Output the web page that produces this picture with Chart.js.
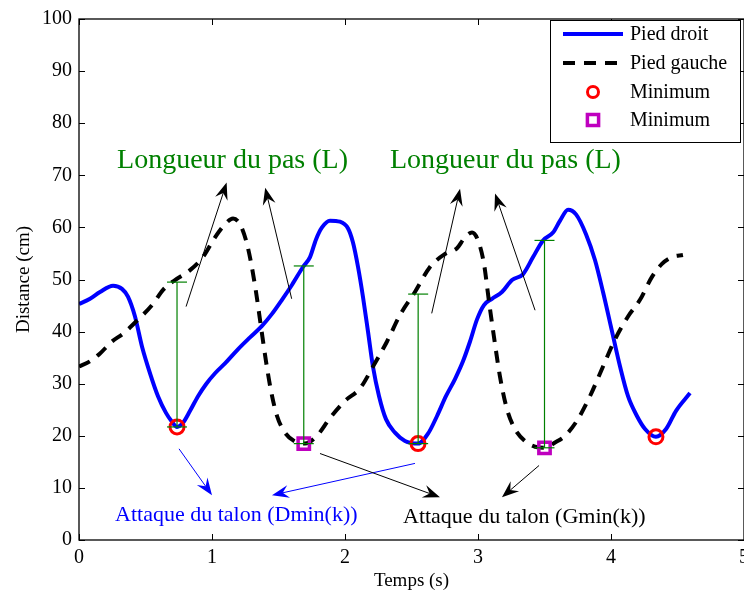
<!DOCTYPE html>
<html>
<head>
<meta charset="utf-8">
<script src="https://cdn.jsdelivr.net/npm/chart.js@4/dist/chart.umd.min.js"></script>
<style>
  html, body { margin: 0; padding: 0; background: #fff; overflow: hidden; }
  #wrap { position: absolute; left: 0; top: 0; width: 800px; height: 594px; }
</style>
</head>
<body>
<div id="wrap"><canvas id="gait"></canvas></div>
<script>
// Pied droit (right foot), time in s / distance in cm
const droitT = [0, 0.083, 0.158, 0.256, 0.323, 0.368, 0.421, 0.474, 0.534, 0.594, 0.654, 0.699, 0.737,
  0.782, 0.835, 0.895, 0.955, 1.023, 1.098, 1.195, 1.286, 1.376, 1.451, 1.526, 1.602, 1.684, 1.737,
  1.782, 1.827, 1.887, 1.962, 2.023, 2.06, 2.098, 2.135, 2.173, 2.21, 2.256, 2.308, 2.376, 2.451,
  2.549, 2.624, 2.692, 2.759, 2.827, 2.887, 2.94, 2.992, 3.045, 3.105, 3.18, 3.256, 3.338, 3.414,
  3.489, 3.564, 3.617, 3.677, 3.737, 3.812, 3.88, 3.94, 4.008, 4.068, 4.128, 4.195, 4.256, 4.338,
  4.414, 4.489, 4.594];
const droitD = [45.3, 46.3, 47.6, 48.8, 48.2, 46.7, 42.9, 37.1, 32, 27.6, 24.4, 22.7, 21.7,
  22.5, 24.8, 27.6, 29.9, 32, 33.9, 36.6, 38.9, 41.1, 43.4, 46.1, 49, 52.4, 54.3,
  57.7, 60, 61.3, 61.1, 59.8, 57.1, 52.4, 46.7, 40, 33.3, 27.6, 23.2, 20.6, 19,
  18.5, 20.4, 23.8, 27.6, 30.9, 34.3, 38.1, 42.3, 45.1, 46.3, 47.6, 49.9, 51, 54.3,
  57.5, 59, 61.3, 63.4, 62.5, 58.7, 53.7, 47.6, 40, 33.3, 27.6, 23.8, 21.3, 19.8,
  21.3, 24.8, 28.2];

// Pied gauche (left foot)
const gaucheT = [0, 0.083, 0.158, 0.248, 0.331, 0.444, 0.556, 0.632, 0.722, 0.835, 0.932, 1.023,
  1.098, 1.158, 1.211, 1.256, 1.293, 1.331, 1.368, 1.406, 1.444, 1.489, 1.549, 1.624, 1.699,
  1.789, 1.887, 2.0, 2.113, 2.211, 2.316, 2.414, 2.526, 2.639, 2.752, 2.842, 2.902, 2.955, 3.0,
  3.045, 3.083, 3.12, 3.165, 3.218, 3.278, 3.353, 3.429, 3.504, 3.579, 3.654, 3.744, 3.842,
  3.94, 4.03, 4.128, 4.218, 4.308, 4.383, 4.459, 4.541];
const gaucheD = [33.3, 34.3, 35.8, 38.1, 39.6, 42.3, 45.3, 48, 49.9, 51.8, 54.3, 58.1,
  60.6, 61.7, 60.6, 57.5, 53.3, 47.6, 41, 34.3, 28.6, 23.8, 20.6, 18.9, 18.5,
  20, 23.4, 26.7, 29.1, 33.3, 38.1, 43.2, 47.6, 52.4, 54.9, 56, 58.1, 59, 57.5,
  53, 45.7, 39, 31.4, 25.1, 21.3, 19, 17.9, 17.7, 18.7, 20, 22.9, 27.6,
  33.3, 38.5, 42.9, 46.1, 50.5, 53, 54.3, 54.7];

// Minima (heel strikes)
const minDroitT = [0.737, 2.549, 4.338];
const minDroitD = [21.7, 18.5, 19.8];
const minGaucheT = [1.69, 3.5];
const minGaucheD = [18.5, 17.7];

// Step length bars: at each minimum, up to the other foot
const pasT = [0.737, 1.69, 2.55, 3.5];
const pasLow = [21.7, 18.5, 18.5, 17.7];
const pasHigh = [49.5, 52.6, 47.2, 57.5];

const xTicks = [0, 1, 2, 3, 4, 5];
const yTicks = [0, 10, 20, 30, 40, 50, 60, 70, 80, 90, 100];
const legendLabels = ["Pied droit", "Pied gauche", "Minimum", "Minimum"];

// annotations, in data units
const notes = [
  { text: "Longueur du pas (L)", t: 0.286, d: 71.4, color: "#008000", size: 28 },
  { text: "Longueur du pas (L)", t: 2.338, d: 71.4, color: "#008000", size: 28 },
  { text: "Attaque du talon (Dmin(k))", t: 0.271, d: 3.7, color: "#0000ff", size: 22 },
  { text: "Attaque du talon (Gmin(k))", t: 2.436, d: 3.2, color: "#000000", size: 22 },
];
const arrows = [
  { from: [0.805, 44.8], to: [1.11, 68.6], color: "#000" },
  { from: [1.599, 46.3], to: [1.40, 67.6], color: "#000" },
  { from: [2.652, 43.5], to: [2.865, 67.4], color: "#000" },
  { from: [3.429, 44.1], to: [3.128, 66.5], color: "#000" },
  { from: [0.752, 17.5], to: [1.0, 8.6], color: "#0000ff" },
  { from: [2.526, 14.7], to: [1.451, 8.6], color: "#0000ff" },
  { from: [1.812, 16.6], to: [2.714, 8.2], color: "#000" },
  { from: [3.459, 14.3], to: [3.18, 8.2], color: "#000" },
];

const SERIF = '"Liberation Serif", "Times New Roman", serif';
const zip = (xs, ys) => xs.map((x, i) => ({ x, y: ys[i] }));

const pasData = [];
pasT.forEach((t, i) => {
  pasData.push({ x: t, y: pasLow[i] }, { x: t, y: pasHigh[i] }, { x: t, y: null });
});

const extras = {
  id: "extras",
  afterDatasetsDraw(chart) {
    const { ctx, chartArea: a, scales } = chart;
    const px = (t) => scales.x.getPixelForValue(t);
    const py = (d) => scales.y.getPixelForValue(d);
    ctx.save();

    // frame + inward ticks
    ctx.strokeStyle = "#000";
    ctx.lineWidth = 1.3;
    ctx.strokeRect(a.left, a.top, a.right - a.left, a.bottom - a.top);
    ctx.lineWidth = 1;
    ctx.beginPath();
    xTicks.forEach((t) => {
      const x = Math.round(px(t)) + 0.5;
      ctx.moveTo(x, a.bottom); ctx.lineTo(x, a.bottom - 6);
      ctx.moveTo(x, a.top); ctx.lineTo(x, a.top + 6);
    });
    yTicks.forEach((d) => {
      const y = Math.round(py(d)) + 0.5;
      ctx.moveTo(a.left, y); ctx.lineTo(a.left + 6, y);
      ctx.moveTo(a.right, y); ctx.lineTo(a.right - 6, y);
    });
    ctx.stroke();

    // arrows
    arrows.forEach((ar) => {
      const x0 = px(ar.from[0]), y0 = py(ar.from[1]);
      const x1 = px(ar.to[0]), y1 = py(ar.to[1]);
      const ang = Math.atan2(y1 - y0, x1 - x0);
      const L = 17, W = 6.5, N = 11;
      const bx = x1 - L * Math.cos(ang), by = y1 - L * Math.sin(ang);
      const nx = x1 - N * Math.cos(ang), ny = y1 - N * Math.sin(ang);
      const ox = -Math.sin(ang) * W, oy = Math.cos(ang) * W;
      ctx.strokeStyle = ar.color;
      ctx.fillStyle = ar.color;
      ctx.lineWidth = 1;
      ctx.beginPath();
      ctx.moveTo(x0, y0);
      ctx.lineTo(nx, ny);
      ctx.stroke();
      ctx.beginPath();
      ctx.moveTo(x1, y1);
      ctx.lineTo(bx + ox, by + oy);
      ctx.lineTo(nx, ny);
      ctx.lineTo(bx - ox, by - oy);
      ctx.closePath();
      ctx.fill();
    });

    // text notes
    notes.forEach((n) => {
      ctx.font = `${n.size}px ${SERIF}`;
      ctx.fillStyle = n.color;
      ctx.textAlign = "left";
      ctx.textBaseline = "alphabetic";
      ctx.fillText(n.text, px(n.t), py(n.d));
    });
    ctx.restore();
  },
  afterDraw(chart) {
    // legend box, top right
    const { ctx, chartArea: a } = chart;
    const ds = chart.data.datasets;
    const boxL = 550, boxT = a.top + 1, boxW = 190, boxH = 122;
    ctx.save();
    ctx.fillStyle = "#fff";
    ctx.fillRect(boxL, boxT, boxW, boxH);
    ctx.strokeStyle = "#000";
    ctx.lineWidth = 1;
    ctx.strokeRect(boxL + 0.5, boxT + 0.5, boxW, boxH);
    const rows = [34, 63, 92, 120];
    const sx0 = 563, sx1 = 623, tx = 630, mx = 593;
    ctx.font = `20px ${SERIF}`;
    ctx.textBaseline = "middle";
    ctx.textAlign = "left";
    legendLabels.forEach((lbl, i) => {
      const y = rows[i];
      const d = ds[i];
      if (i < 2) {
        ctx.strokeStyle = d.borderColor;
        ctx.lineWidth = d.borderWidth;
        ctx.setLineDash(d.borderDash || []);
        ctx.beginPath();
        ctx.moveTo(sx0, y);
        ctx.lineTo(sx1, y);
        ctx.stroke();
        ctx.setLineDash([]);
      } else {
        ctx.strokeStyle = d.borderColor;
        ctx.lineWidth = d.borderWidth;
        ctx.beginPath();
        if (d.pointStyle === "rect") {
          const r = d.pointRadius * 0.7;
          ctx.rect(mx - r, y - r, 2 * r, 2 * r);
        } else {
          ctx.arc(mx, y, d.pointRadius - 1.5, 0, Math.PI * 2);
        }
        ctx.stroke();
      }
      ctx.fillStyle = "#000";
      ctx.fillText(lbl, tx, y + 1);
    });
    ctx.restore();
  },
};

new Chart(document.getElementById("gait"), {
  type: "scatter",
  data: {
    datasets: [
      {
        label: "Pied droit",
        data: zip(droitT, droitD),
        showLine: true,
        borderColor: "#0000ff",
        backgroundColor: "#0000ff",
        borderWidth: 4,
        pointRadius: 0,
        cubicInterpolationMode: "monotone",
        order: 4,
      },
      {
        label: "Pied gauche",
        data: zip(gaucheT, gaucheD),
        showLine: true,
        borderColor: "#000000",
        backgroundColor: "#000000",
        borderWidth: 4,
        borderDash: [12, 9],
        pointRadius: 0,
        cubicInterpolationMode: "monotone",
        order: 3,
      },
      {
        label: "Minimum",
        data: zip(minDroitT, minDroitD),
        pointStyle: "circle",
        pointRadius: 7,
        borderWidth: 3,
        borderColor: "#ff0000",
        backgroundColor: "rgba(0,0,0,0)",
        order: 2,
      },
      {
        label: "Minimum",
        data: zip(minGaucheT, minGaucheD),
        pointStyle: "rect",
        pointRadius: 8,
        borderWidth: 3.5,
        borderColor: "#bf00bf",
        backgroundColor: "rgba(0,0,0,0)",
        order: 2,
      },
      {
        label: "pas",
        data: pasData,
        showLine: true,
        spanGaps: false,
        borderColor: "#008000",
        backgroundColor: "#008000",
        borderWidth: 1.2,
        pointStyle: "line",
        pointRadius: 10,
        pointBorderWidth: 1.2,
        order: 1,
      },
    ],
  },
  options: {
    responsive: true,
    maintainAspectRatio: false,
    animation: false,
    layout: { padding: { left: 0, right: 56, top: 15, bottom: 0 } },
    plugins: {
      legend: { display: false },
      tooltip: { enabled: false },
    },
    scales: {
      x: {
        type: "linear",
        min: 0,
        max: 5,
        afterBuildTicks: (s) => { s.ticks = xTicks.map((v) => ({ value: v })); },
        afterFit: (s) => { s.height = 54; },
        ticks: { color: "#000", font: { family: SERIF, size: 20 }, padding: 6, maxRotation: 0 },
        grid: { display: false, drawTicks: false },
        border: { display: false },
        title: { display: true, text: "Temps (s)", color: "#000", font: { family: SERIF, size: 19 }, padding: { top: 0, bottom: 2 } },
      },
      y: {
        type: "linear",
        min: 0,
        max: 100,
        afterBuildTicks: (s) => { s.ticks = yTicks.map((v) => ({ value: v })); },
        afterFit: (s) => { s.width = 79; },
        ticks: { color: "#000", font: { family: SERIF, size: 20 }, padding: 7 },
        grid: { display: false, drawTicks: false },
        border: { display: false },
        title: { display: true, text: "Distance (cm)", color: "#000", font: { family: SERIF, size: 19 }, padding: { top: 13, bottom: 0 } },
      },
    },
  },
  plugins: [extras],
});
</script>
</body>
</html>
